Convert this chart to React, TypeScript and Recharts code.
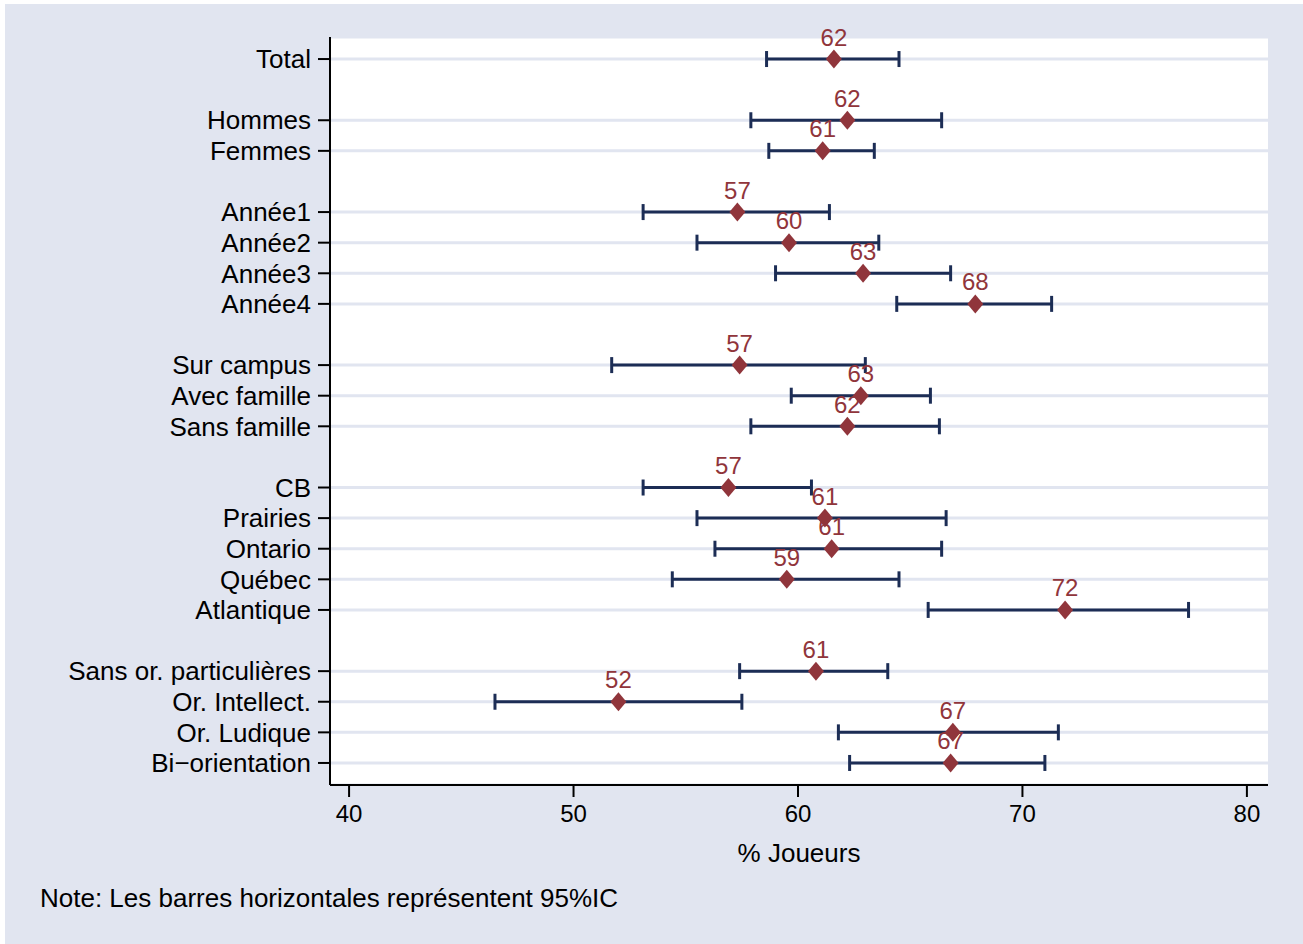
import React from 'react';
import { ScatterChart, Scatter, XAxis, YAxis, CartesianGrid, ErrorBar } from 'recharts';

const categories = [
  'Total',
  'Hommes', 'Femmes',
  'Année1', 'Année2', 'Année3', 'Année4',
  'Sur campus', 'Avec famille', 'Sans famille',
  'CB', 'Prairies', 'Ontario', 'Québec', 'Atlantique',
  'Sans or. particulières', 'Or. Intellect.', 'Or. Ludique', 'Bi\u2212orientation',
];
// slot of each category on the vertical axis (gaps separate the groups)
const slots = [0, 2, 3, 5, 6, 7, 8, 10, 11, 12, 14, 15, 16, 17, 18, 20, 21, 22, 23];
const means = [61.6, 62.2, 61.1, 57.3, 59.6, 62.9, 67.9, 57.4, 62.8, 62.2, 56.9, 61.2, 61.5, 59.5, 71.9, 60.8, 52.0, 66.9, 66.8];
const lows = [58.6, 57.9, 58.7, 53.1, 55.5, 59.0, 64.4, 51.7, 59.7, 57.9, 53.1, 55.5, 56.3, 54.4, 65.8, 57.4, 46.5, 61.8, 62.3];
const highs = [64.5, 66.4, 63.4, 61.4, 63.6, 66.8, 71.3, 63.0, 65.9, 66.3, 60.6, 66.6, 66.4, 64.5, 77.4, 64.0, 57.5, 71.6, 71.0];
const valueLabels = ['62', '62', '61', '57', '60', '63', '68', '57', '63', '62', '57', '61', '61', '59', '72', '61', '52', '67', '67'];
const xTicks = [40, 50, 60, 70, 80];

const data = categories.map((c, i) => ({
  cat: c,
  pos: slots[i],
  mean: means[i],
  err: [means[i] - lows[i], highs[i] - means[i]],
  lbl: valueLabels[i],
}));

const FONT = '"Liberation Sans", Arial, Helvetica, sans-serif';
const NAVY = '#1c2d55';
const CRAN = '#90353b';

const DiamondLabel = (props: any) => {
  const { cx, cy, payload } = props;
  if (cx == null || cy == null) return null;
  return (
    <g>
      <polygon
        points={`${cx},${cy - 9.5} ${cx + 8},${cy} ${cx},${cy + 9.5} ${cx - 8},${cy}`}
        fill={CRAN}
      />
      <text x={cx} y={cy - 13.5} textAnchor="middle" fill={CRAN} fontSize={24} fontFamily={FONT}>
        {payload.lbl}
      </text>
    </g>
  );
};

const catBySlot = (v: number) => {
  const i = slots.indexOf(v);
  return i >= 0 ? categories[i] : '';
};

export default function App() {
  return (
    <div style={{ position: 'absolute', left: 0, top: 0, width: 1303, height: 944, background: '#ffffff', fontFamily: FONT }}>
      <div style={{ position: 'absolute', left: 5, top: 4, right: 0, bottom: 0, background: '#e1e5f0' }} />
      <div style={{ position: 'absolute', left: 0, top: 0 }}>
        <ScatterChart width={1303} height={944} margin={{ top: 37, right: 35, bottom: 79, left: 0 }}>
          <CartesianGrid horizontal vertical={false} fill="#ffffff" stroke="#e1e5f0" strokeWidth={3} />
          <XAxis
            type="number"
            dataKey="mean"
            domain={[39.15, 80.94]}
            ticks={xTicks}
            height={80}
            tickSize={12}
            tickMargin={8}
            tick={{ fill: '#000', fontSize: 24, fontFamily: FONT }}
            axisLine={{ stroke: '#000', strokeWidth: 2 }}
            tickLine={{ stroke: '#000', strokeWidth: 2 }}
            label={{ value: '% Joueurs', position: 'insideBottom', offset: 3, fill: '#000', fontSize: 26, fontFamily: FONT }}
          />
          <YAxis
            type="number"
            dataKey="pos"
            domain={[-0.72, 23.72]}
            reversed
            ticks={slots}
            interval={0}
            width={330}
            tickSize={12}
            tickMargin={7}
            tickFormatter={catBySlot}
            tick={{ fill: '#000', fontSize: 26, fontFamily: FONT }}
            axisLine={{ stroke: '#000', strokeWidth: 2 }}
            tickLine={{ stroke: '#000', strokeWidth: 2 }}
          />
          <Scatter data={data} isAnimationActive={false} shape={DiamondLabel}>
            <ErrorBar dataKey="err" direction="x" width={8} stroke={NAVY} strokeWidth={3} isAnimationActive={false} />
          </Scatter>
        </ScatterChart>
      </div>
      <div style={{ position: 'absolute', left: 40, top: 885, fontSize: 26, lineHeight: '26px', color: '#000', whiteSpace: 'nowrap' }}>
        Note: Les barres horizontales représentent 95%IC
      </div>
    </div>
  );
}
